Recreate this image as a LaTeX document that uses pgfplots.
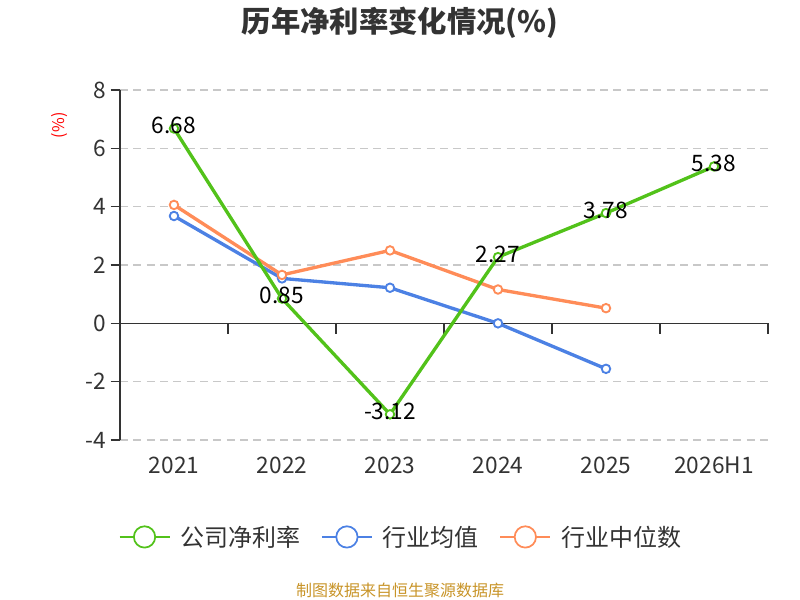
\documentclass[border=0pt]{standalone}
\usepackage{pgfplots}
\pgfplotsset{compat=1.18}
\usepackage{fontspec}
\setmainfont{Noto Sans CJK SC}
\definecolor{cgreen}{RGB}{82,194,26}
\definecolor{cblue}{RGB}{76,129,228}
\definecolor{corange}{RGB}{255,140,88}
\definecolor{ctext}{RGB}{51,51,51}
\definecolor{cgrid}{RGB}{200,200,200}
\definecolor{csrc}{RGB}{200,148,40}
\begin{document}
\begin{tikzpicture}
\path[use as bounding box] (0,0) rectangle (600pt,450pt);
\begin{axis}[
  at={(90pt,120pt)}, anchor=south west,
  width=486pt, height=262.5pt, scale only axis,
  xmin=-0.5, xmax=5.5, ymin=-4, ymax=8,
  axis x line=none,
  axis y line*=left,
  y axis line style={ctext, line width=1.2pt, -},
  ytick={-4,-2,0,2,4,6,8},
  yticklabels={-4,-2,0,2,4,6,8},
  ytick style={ctext, line width=1.2pt},
  tick align=outside,
  major tick length=7pt,
  yticklabel style={font=\fontsize{17}{20}\selectfont, text=ctext},
  ymajorgrids,
  grid style={cgrid, line width=0.9pt, dash pattern=on 6pt off 4pt},
  clip=false,
  legend columns=3,
  legend cell align=left,
  legend style={at={(0.432,-0.277)}, anchor=center, draw=none, fill=none,
    inner sep=0pt, outer sep=0pt,
    font=\fontsize{18}{21}\selectfont, text=ctext,
    nodes={inner sep=0pt},
    /tikz/every odd column/.append style={column sep=7.5pt},
    /tikz/every even column/.append style={column sep=15.5pt}},
  legend image code/.code={
    \draw[line width=1.3pt] (0pt,0pt) -- (37.5pt,0pt);
    \draw[line width=1.3pt, fill=white] (18.75pt,0pt) circle (8pt);
  },
]
\addlegendimage{cgreen}
\addlegendentry{公司净利率}
\addlegendimage{cblue}
\addlegendentry{行业均值}
\addlegendimage{corange}
\addlegendentry{行业中位数}

% zero line and category ticks (axis decoration)
\draw[ctext, line width=1.2pt] (axis cs:-0.5,0) -- (axis cs:5.5,0);
\pgfplotsinvokeforeach{0.5,1.5,2.5,3.5,4.5,5.5}{
  \draw[ctext, line width=1.2pt] (axis cs:#1,0) -- ([yshift=-8pt]axis cs:#1,0);
}
% x labels
\node[font=\fontsize{17}{20}\selectfont, text=ctext, yshift=-19pt] at (axis cs:0,-4) {2021};
\node[font=\fontsize{17}{20}\selectfont, text=ctext, yshift=-19pt] at (axis cs:1,-4) {2022};
\node[font=\fontsize{17}{20}\selectfont, text=ctext, yshift=-19pt] at (axis cs:2,-4) {2023};
\node[font=\fontsize{17}{20}\selectfont, text=ctext, yshift=-19pt] at (axis cs:3,-4) {2024};
\node[font=\fontsize{17}{20}\selectfont, text=ctext, yshift=-19pt] at (axis cs:4,-4) {2025};
\node[font=\fontsize{17}{20}\selectfont, text=ctext, yshift=-19pt] at (axis cs:5,-4) {2026H1};

\addplot[forget plot, cblue, line width=2.5pt, mark=*, mark size=3.2pt,
  mark options={fill=white, line width=1.4pt}] coordinates {
  (0,3.68) (1,1.54) (2,1.22) (3,0.00) (4,-1.56)
};
\addplot[forget plot, corange, line width=2.5pt, mark=*, mark size=3.2pt,
  mark options={fill=white, line width=1.4pt}] coordinates {
  (0,4.06) (1,1.66) (2,2.50) (3,1.16) (4,0.52)
};
\addplot[forget plot, cgreen, line width=2.5pt, mark=*, mark size=3.2pt,
  mark options={fill=white, line width=1.4pt},
  point meta=explicit symbolic,
  nodes near coords,
  every node near coord/.style={anchor=center, yshift=2pt, text=black,
    font=\fontsize{17}{20}\selectfont}] coordinates {
  (0,6.68) [6.68] (1,0.85) [0.85] (2,-3.12) [-3.12] (3,2.27) [2.27] (4,3.78) [3.78] (5,5.38) [5.38]
};
\end{axis}
\node[font=\fontsize{22}{26}\selectfont\bfseries, text=ctext] at (300pt,433pt) {历年净利率变化情况(\%)};
\node[rotate=90, font=\fontsize{12}{14}\selectfont, text=red] at (45pt,356pt) {(\%)};
\node[font=\fontsize{12}{14}\selectfont, text=csrc] at (300pt,7.5pt) {制图数据来自恒生聚源数据库};
\end{tikzpicture}
\end{document}
